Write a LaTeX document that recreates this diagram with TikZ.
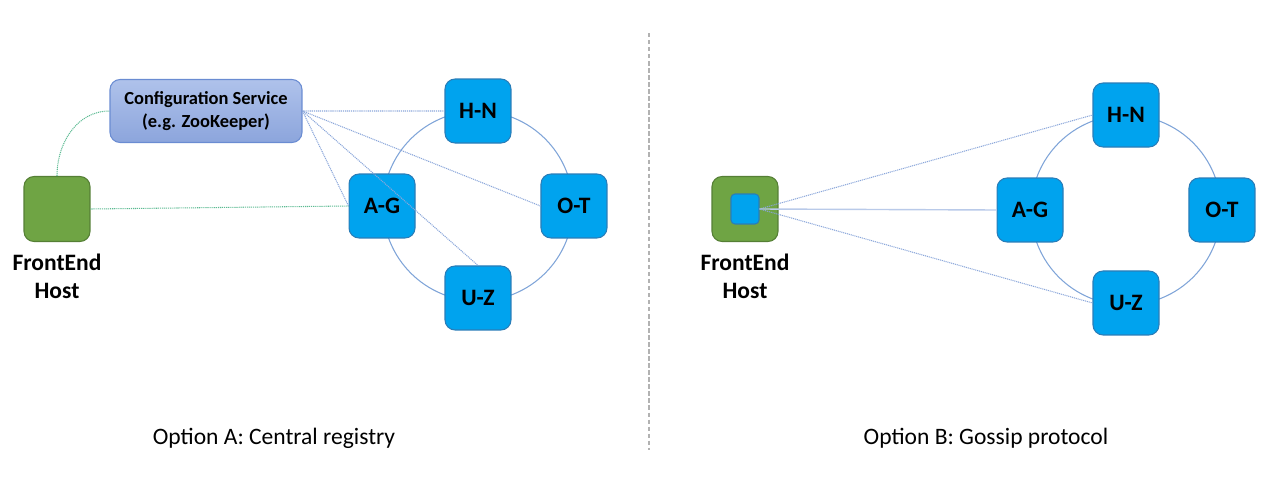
\documentclass[tikz,border=0pt]{standalone}
\usepackage{fontspec}
\setmainfont{Carlito}
\usetikzlibrary{positioning}
\definecolor{partblue}{HTML}{00A3EE}
\definecolor{partedge}{HTML}{2A7DB8}
\definecolor{hostgreen}{HTML}{6FA444}
\definecolor{hostedge}{HTML}{557F35}
\definecolor{cfgtop}{HTML}{AFC2EB}
\definecolor{cfgbot}{HTML}{8CA5DC}
\definecolor{cfgedge}{HTML}{6A8CD2}
\definecolor{ringline}{HTML}{7FA4D8}
\definecolor{linkblue}{HTML}{8AA6DA}
\definecolor{linkgreen}{HTML}{5DBB93}
\tikzset{
every node/.style={font=\fontsize{13.4}{16}\selectfont},
part/.style={draw=partedge, fill=partblue, line width=0.6pt, rounded corners=0.2cm,
  minimum width=1.32cm, minimum height=1.28cm, font=\fontsize{13.4}{16}\selectfont\bfseries},
host/.style={draw=hostedge, fill=hostgreen, line width=0.6pt, rounded corners=0.2cm,
  minimum width=1.32cm, minimum height=1.3cm},
hosttext/.style={align=center, font=\fontsize{13.4}{16}\selectfont\bfseries},
registry/.style={draw=cfgedge, top color=cfgtop, bottom color=cfgbot, line width=0.6pt,
  rounded corners=0.2cm, minimum width=3.84cm, minimum height=1.26cm, align=center,
  font=\fontsize{10.5}{13}\selectfont\bfseries},
ring/.style={draw=ringline, line width=0.6pt},
link/.style={draw=linkblue, line width=0.6pt, dash pattern=on 0.6pt off 0.5pt},
greenlink/.style={draw=linkgreen, line width=0.6pt, dash pattern=on 0.6pt off 0.5pt},
}

\begin{document}
\begin{tikzpicture}[x=0.02cm, y=-0.02cm, node distance=1.9cm]
        \useasboundingbox (0,0) rectangle (1269,480);

        % Option A
        \coordinate (ringA) at (478,206);
        \draw[ring] (ringA) circle[radius=1.9cm];
        \node[part, above of=ringA] (hnA) {H-N};
        \node[part, left of=ringA, node distance=1.92cm] (agA) {A-G};
        \node[part, right of=ringA, node distance=1.92cm] (otA) {O-T};
        \node[part, below of=ringA, node distance=1.84cm] (uzA) {U-Z};
        \node[registry] (cfg) at (206,111) {Configuration Service\\(e.g. ZooKeeper)};
        \node[host] (feA) at (57,209) {};
        \node[hosttext, below=3pt of feA] (feAtext) {FrontEnd\\Host};

        \draw[greenlink] (feA.north) to[out=90, in=180] (cfg.west);
        \draw[greenlink] (feA.east) -- (agA.west);
        \path (cfg.east) edge[link] (hnA.west)
                         edge[link] (otA.west)
                         edge[link] (uzA.north)
                         edge[link] (agA.west);

        % Option B
        \coordinate (ringB) at (1126,210);
        \draw[ring] (ringB) circle[radius=1.9cm];
        \node[part, above of=ringB] (hnB) {H-N};
        \node[part, left of=ringB, node distance=1.92cm] (agB) {A-G};
        \node[part, right of=ringB, node distance=1.92cm] (otB) {O-T};
        \node[part, below of=ringB, node distance=1.86cm] (uzB) {U-Z};
        \node[host] (feB) at (745,209) {};
        \node[part, minimum width=0.56cm, minimum height=0.6cm, rounded corners=0.08cm] (feBin) at (feB) {};
        \node[hosttext, below=3pt of feB] (feBtext) {FrontEnd\\Host};

        \draw[link] (feBin.east) -- (hnB.west);
        \draw[draw=linkblue!60, line width=0.8pt] (feBin.east) -- (agB.west);
        \draw[link] (feBin.east) -- (uzB.west);

        % divider and captions
        \coordinate (divtop) at (649,33);
        \coordinate (divbot) at (649,450);
        \draw[gray!60, line width=0.6pt, dash pattern=on 2.5pt off 1.5pt] (divtop) -- (divbot);
        \node (capA) at (274,438) {Option A: Central registry};
        \node (capB) at (986,438) {Option B: Gossip protocol};
    \end{tikzpicture}
\end{document}
